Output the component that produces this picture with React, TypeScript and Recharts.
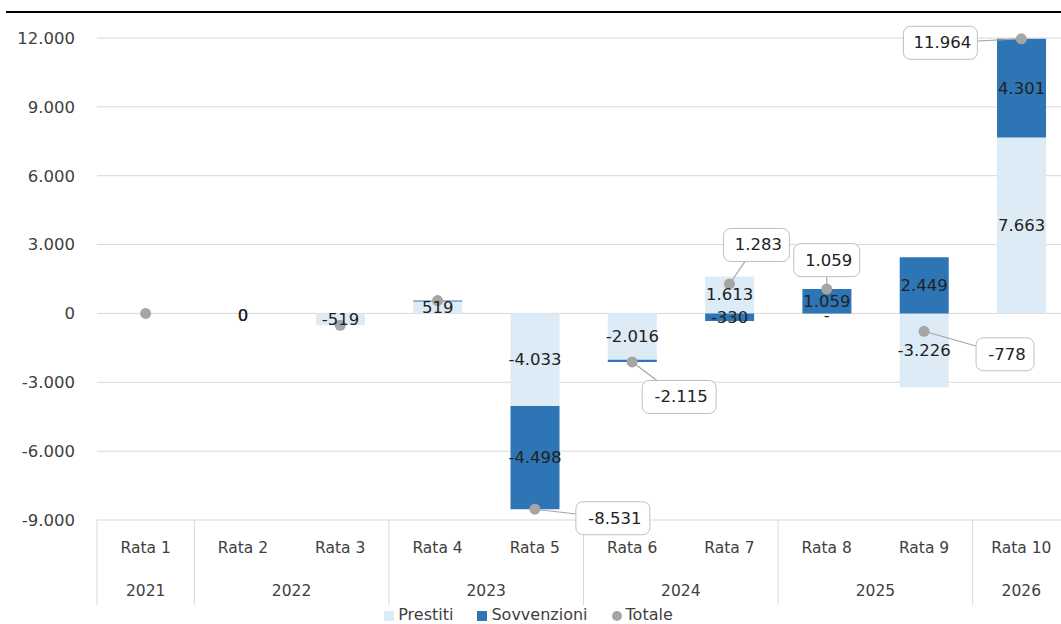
import React from 'react';
import { ComposedChart, Bar, Line, XAxis, YAxis, CartesianGrid, Legend, LabelList } from 'recharts';

const categories = ['Rata 1', 'Rata 2', 'Rata 3', 'Rata 4', 'Rata 5', 'Rata 6', 'Rata 7', 'Rata 8', 'Rata 9', 'Rata 10'];
const years = ['2021', '2022', '2022', '2023', '2023', '2024', '2024', '2025', '2025', '2026'];
const prestiti = [null, 0, -519, 519, -4033, -2016, 1613, 0, -3226, 7663];
const sovvenzioni = [null, 0, null, 40, -4498, -99, -330, 1059, 2449, 4301];
const totale = [0, null, -519, 559, -8531, -2115, 1283, 1059, -778, 11964];
const yTicks = [-9000, -6000, -3000, 0, 3000, 6000, 9000, 12000];

const data = categories.map((c, i) => ({
    rata: c,
    anno: years[i],
    prestiti: prestiti[i],
    sovvenzioni: sovvenzioni[i],
    totale: totale[i],
}));

// where each callout box sits relative to its dot
const calloutOffset: Record<number, [number, number]> = {
    4: [78, 9],
    5: [47, 35],
    6: [27, -39],
    7: [0, -29],
    8: [81, 23],
    9: [-81, 4],
};

const FONT = '"DejaVu Sans", Verdana, sans-serif';
const TEXT = '#404040';
const LIGHT = '#DDEBF7';
const DARK = '#2E75B6';
const GREY = '#A5A5A5';

const CHART_W = 1070;
const PLOT_LEFT = 97;
const BAND = (CHART_W - PLOT_LEFT) / categories.length;

const fmt = (v: number) => {
    const s = Math.abs(v).toString().replace(/\B(?=(\d{3})+(?!\d))/g, '.');
    return (v < 0 ? '-' : '') + s;
};

const valueText = (x: number, y: number, text: string) => (
    <text x={x} y={y} textAnchor="middle" dominantBaseline="central" fontFamily={FONT} fontSize={16.5} fill="#222">
        {text}
    </text>
);

// non-zero segment labels, drawn in the middle of the segment
const BarValue = (props: any) => {
    const { x, y, width, height, value } = props;
    if (value === null || value === undefined || value === 0) return null;
    if (Math.abs(value) < 150) return null;
    return valueText(x + width / 2, y + height / 2, fmt(value));
};

// zero segments have no height, so their labels are drawn from the zero line
const ZeroValue = (series: 'prestiti' | 'sovvenzioni') => (props: any) => {
    const { x, y, value, index } = props;
    if (value !== 0) return null;
    const other = series === 'prestiti' ? sovvenzioni[index] : prestiti[index];
    return valueText(x, y + 2, other ? '-' : '0');
};

const Callout = (props: any) => {
    const { x, y, value, index } = props;
    const off = calloutOffset[index];
    if (value === null || value === undefined || !off) return null;
    const text = fmt(value);
    const w = text.length * 8 + 26;
    const h = 33;
    const cx = x + off[0];
    const cy = y + off[1];
    return (
        <g>
            <line x1={x} y1={y} x2={cx} y2={cy} stroke={GREY} strokeWidth={1.2} />
            <rect x={cx - w / 2} y={cy - h / 2} width={w} height={h} rx={7} fill="#fff" stroke="#BFBFBF" strokeWidth={1} />
            <text x={cx + 2} y={cy} textAnchor="middle" dominantBaseline="central" fontFamily={FONT} fontSize={16.5} fill="#222">
                {text}
            </text>
        </g>
    );
};

const RataTick = (props: any) => {
    const { x, y, payload } = props;
    return (
        <text x={x} y={y + 28} textAnchor="middle" dominantBaseline="central" fontFamily={FONT} fontSize={15.5} fill={TEXT}>
            {payload.value}
        </text>
    );
};

const YearTick = (props: any) => {
    const { x, y, payload, index } = props;
    const i = index ?? categories.indexOf(payload.value);
    const yr = years[i];
    const first = i === 0 || years[i - 1] !== yr;
    if (!first) return null;
    let span = 1;
    while (years[i + span] === yr) span++;
    const left = x - BAND / 2;
    const mid = left + (span * BAND) / 2;
    return (
        <g>
            <line x1={left} y1={y - 43} x2={left} y2={y + 42} stroke="#D9D9D9" strokeWidth={1} />
            {i + span === years.length && (
                <line x1={left + span * BAND} y1={y - 43} x2={left + span * BAND} y2={y + 42} stroke="#D9D9D9" />
            )}
            <text x={mid} y={y + 28} textAnchor="middle" dominantBaseline="central" fontFamily={FONT} fontSize={15.5} fill={TEXT}>
                {yr}
            </text>
        </g>
    );
};

const LegendText = (value: string) => (
    <span style={{ color: TEXT, fontFamily: FONT, fontSize: 16, marginRight: 14 }}>{value}</span>
);

export default function App() {
    return (
        <div style={{ position: 'absolute', left: 0, top: 0, width: 1061, height: 624, overflow: 'hidden', background: '#fff' }}>
            <div style={{ position: 'absolute', left: 6, right: 0, top: 11, height: 2, background: '#000' }} />
            <ComposedChart
                width={CHART_W}
                height={624}
                data={data}
                stackOffset="sign"
                barCategoryGap="25%"
                margin={{ top: 38, right: 0, bottom: 18, left: 0 }}
            >
                <CartesianGrid vertical={false} stroke="#D9D9D9" />
                <XAxis dataKey="rata" xAxisId={0} axisLine={false} tickLine={false} tickSize={0} tickMargin={0}
                    height={43} tick={<RataTick />} interval={0} />
                <XAxis dataKey="rata" xAxisId="year" axisLine={false} tickLine={false} tickSize={0} tickMargin={0}
                    height={43} tick={<YearTick />} interval={0} />
                <YAxis width={PLOT_LEFT} domain={[-9000, 12000]} ticks={yTicks} axisLine={false} tickLine={false}
                    tickMargin={16} tickFormatter={fmt}
                    tick={{ fontFamily: FONT, fontSize: 16.5, fill: TEXT }} />
                <Bar dataKey="prestiti" name="Prestiti" stackId="a" fill={LIGHT} isAnimationActive={false} legendType="square">
                    <LabelList dataKey="prestiti" content={BarValue} />
                </Bar>
                <Bar dataKey="sovvenzioni" name="Sovvenzioni" stackId="a" fill={DARK} isAnimationActive={false} legendType="square">
                    <LabelList dataKey="sovvenzioni" content={BarValue} />
                </Bar>
                <Line dataKey="prestiti" stroke="none" dot={false} activeDot={false} legendType="none"
                    isAnimationActive={false} label={ZeroValue('prestiti')} />
                <Line dataKey="sovvenzioni" stroke="none" dot={false} activeDot={false} legendType="none"
                    isAnimationActive={false} label={ZeroValue('sovvenzioni')} />
                <Line dataKey="totale" name="Totale" stroke={GREY} strokeWidth={0} isAnimationActive={false} legendType="circle"
                    dot={{ r: 5.5, fill: GREY, stroke: 'none' }} activeDot={false} label={<Callout />} />
                <Legend verticalAlign="middle" align="center" layout="horizontal" iconSize={10}
                    formatter={LegendText}
                    wrapperStyle={{ top: 605, left: 10, width: 1061, lineHeight: '20px' }} />
            </ComposedChart>
        </div>
    );
}
